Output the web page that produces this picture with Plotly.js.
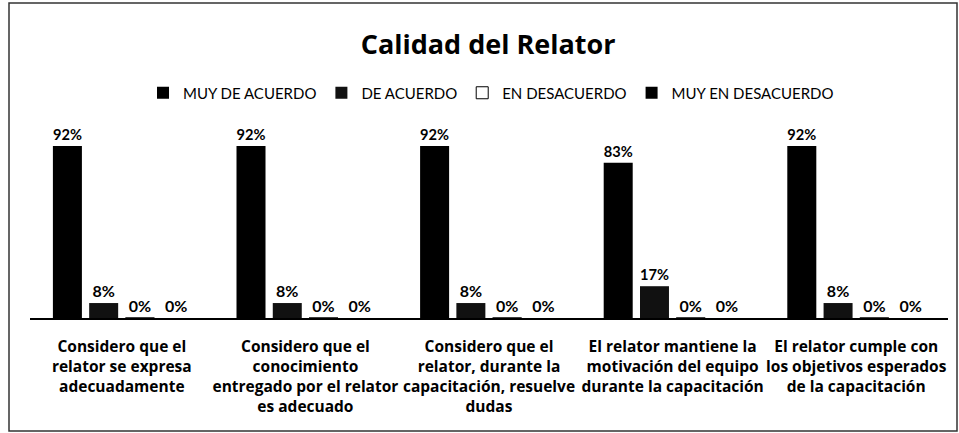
<!DOCTYPE html>
<html>
<head>
<meta charset="utf-8">
<script src="https://cdn.plot.ly/plotly-3.0.1.min.js"></script>
<style>
html,body{margin:0;padding:0;background:#fff;}
#chart{width:959px;height:433px;}
</style>
</head>
<body>
<div id="chart"></div>
<script>
const categories = [
  "Considero que el<br>relator se expresa<br>adecuadamente",
  "Considero que el<br>conocimiento<br>entregado por el relator<br>es adecuado",
  "Considero que el<br>relator, durante la<br>capacitación, resuelve<br>dudas",
  "El relator mantiene la<br>motivación del equipo<br>durante la capacitación",
  "El relator cumple con<br>los objetivos esperados<br>de la capacitación"
];
const seriesNames = ["MUY DE ACUERDO", "DE ACUERDO", "EN DESACUERDO", "MUY EN DESACUERDO"];
const muyDeAcuerdo = [0.92, 0.92, 0.92, 0.83, 0.92];
const deAcuerdo = [0.08, 0.08, 0.08, 0.17, 0.08];
const enDesacuerdo = [0, 0, 0, 0, 0];
const muyEnDesacuerdo = [0, 0, 0, 0, 0];

const seriesValues = [muyDeAcuerdo, deAcuerdo, enDesacuerdo, muyEnDesacuerdo];
const fills = ["#000000", "#111111", "#ffffff", "#000000"];

const fontLato = "Lato, 'Open Sans', sans-serif";
const fontOpen = "'Open Sans', Lato, sans-serif";

const traces = seriesValues.map((vals, i) => ({
  type: "bar",
  name: seriesNames[i],
  x: categories,
  y: vals,
  marker: {color: fills[i], line: {color: "#000", width: i === 2 ? 1 : 0}},
  texttemplate: "%{y:.0%}",
  textposition: "outside",
  cliponaxis: false,
  textfont: {family: fontLato, size: 16, color: "#000", weight: "bold"},
  hoverinfo: "skip"
}));

const W = 959, H = 433;
const L = 30, R = 11, T = 131, B = 115;
const pw = W - L - R, ph = H - T - B;
const px2x = p => (p - L) / pw;
const py2y = p => (H - B - p) / ph;

const layout = {
  width: W, height: H,
  margin: {l: L, r: R, t: T, b: B, autoexpand: false},
  paper_bgcolor: "#fff",
  plot_bgcolor: "#fff",
  font: {family: fontLato, color: "#000"},
  title: {
    text: "Calidad del Relator",
    font: {family: fontOpen, size: 27, color: "#000", weight: "bold"},
    x: 0.509, xanchor: "center",
    xref: "container", yref: "container",
    y: 1 - 45 / H, yanchor: "middle"
  },
  barmode: "group",
  bargap: 0.21,
  bargroupgap: 0.2,
  showlegend: true,
  legend: {
    orientation: "h",
    xref: "container", yref: "container",
    x: 0.512, xanchor: "center",
    y: 1 - 93 / H, yanchor: "middle",
    font: {family: fontLato, size: 15, color: "#000"},
    itemclick: false, itemdoubleclick: false
  },
  xaxis: {
    type: "category",
    showline: true, linecolor: "#000", linewidth: 2,
    ticks: "", showgrid: false, zeroline: false,
    tickangle: 0,
    tickfont: {family: fontOpen, size: 15.5, color: "#000", weight: "bold"},
    ticklabelstandoff: 13,
    fixedrange: true
  },
  yaxis: {
    range: [0, 1],
    visible: false,
    showgrid: false, zeroline: false,
    fixedrange: true
  },
  shapes: [{
    type: "rect", xref: "paper", yref: "paper",
    x0: px2x(9), x1: px2x(957), y0: py2y(431), y1: py2y(3),
    line: {color: "#333", width: 1.5},
    fillcolor: "rgba(0,0,0,0)"
  }]
};

Plotly.newPlot("chart", traces, layout, {displayModeBar: false, staticPlot: true});
</script>
</body>
</html>
